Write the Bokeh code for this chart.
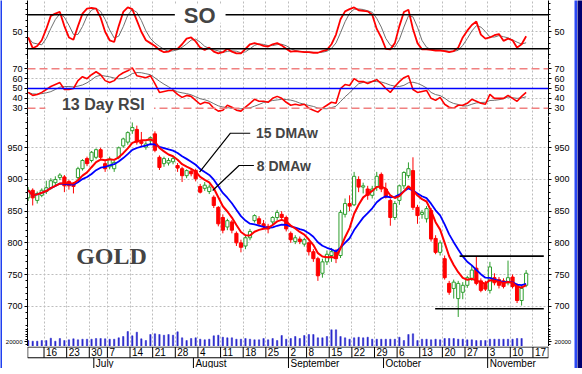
import numpy as np
import pandas as pd
from bokeh.plotting import figure
from bokeh.layouts import column, row
from bokeh.models import Range1d, LinearAxis, FixedTicker, Span, Label, BoxAnnotation, ColumnDataSource
from bokeh.embed import file_html
from bokeh.resources import INLINE
from bokeh.core.properties import value

# ---------------- data ----------------
START, END = "2008-06-10", "2008-11-17"
HOLIDAYS = ["2008-07-04", "2008-09-01"]
MONTH_NAMES = {7: "July", 8: "August", 9: "September", 10: "October", 11: "November"}

opens = [871, 883, 867, 875, 881, 887, 895, 903, 904, 897, 893, 903, 917, 933, 930, 935, 947, 925, 920, 917,
         935, 953, 959, 977, 979, 960, 951, 961, 972, 935, 925, 926, 928, 922, 917, 906, 913, 914, 889, 886,
         881, 872, 856, 840, 825, 833, 815, 800, 795, 808, 835, 838, 830, 826, 833, 840, 845, 840, 815, 802,
         806, 798, 800, 786, 775, 752, 770, 780, 786, 780, 845, 862, 860, 900, 888, 885, 875, 888, 908, 885,
         867, 840, 867, 890, 906, 914, 856, 845, 838, 851, 807, 785, 775, 736, 728, 712, 722, 733, 744, 760,
         740, 736, 725, 745, 742, 740, 737, 746, 733, 709, 733]
highs = [888, 886, 881, 886, 898, 902, 905, 910, 907, 899, 896, 920, 932, 936, 945, 949, 950, 929, 936, 930,
         952, 966, 976, 990, 985, 975, 960, 968, 976, 938, 936, 934, 936, 926, 920, 916, 918, 917, 893, 896,
         892, 875, 858, 845, 838, 836, 818, 805, 812, 822, 845, 842, 836, 830, 842, 852, 850, 843, 818, 812,
         810, 808, 802, 790, 778, 775, 788, 792, 790, 852, 870, 875, 912, 905, 895, 890, 890, 912, 911, 895,
         870, 866, 892, 913, 927, 935, 860, 852, 858, 855, 812, 804, 780, 740, 742, 740, 738, 748, 765, 778,
         744, 740, 770, 752, 746, 744, 772, 750, 736, 732, 757]
lows = [866, 859, 862, 872, 877, 884, 890, 899, 880, 884, 878, 900, 914, 921, 927, 932, 932, 912, 916, 912,
        932, 950, 955, 972, 955, 952, 947, 956, 943, 915, 920, 922, 924, 912, 896, 902, 905, 897, 878, 882,
        877, 855, 826, 815, 820, 815, 795, 785, 790, 804, 832, 826, 822, 815, 828, 836, 835, 818, 800, 798,
        798, 794, 780, 770, 740, 745, 765, 770, 768, 776, 840, 850, 858, 880, 878, 868, 870, 882, 880, 870,
        827, 836, 860, 885, 902, 852, 830, 838, 832, 802, 782, 780, 742, 718, 712, 683, 711, 729, 740, 733,
        722, 724, 720, 733, 728, 728, 733, 728, 705, 701, 730]
closes = [883, 871, 878, 883, 887, 898, 900, 907, 890, 890, 889, 917, 930, 925, 943, 947, 935, 917, 932, 927,
          950, 964, 974, 982, 959, 957, 956, 966, 946, 919, 933, 930, 933, 918, 906, 914, 909, 901, 880, 891,
          888, 859, 830, 820, 835, 820, 800, 793, 808, 818, 843, 830, 826, 822, 840, 848, 840, 822, 805, 808,
          802, 805, 786, 775, 748, 770, 782, 786, 775, 848, 862, 858, 905, 888, 890, 875, 885, 905, 885, 872,
          840, 862, 890, 911, 917, 856, 843, 848, 854, 806, 785, 800, 745, 722, 738, 736, 733, 745, 757, 736,
          725, 727, 762, 737, 733, 731, 745, 731, 709, 728, 752]
volume = [120, 106, 106, 120, 120, 166, 106, 160, 120, 134, 154, 134, 146, 146, 146, 160, 160, 154, 146, 146,
          174, 200, 300, 214, 286, 154, 120, 240, 254, 240, 226, 240, 226, 294, 174, 120, 160, 174, 146, 134,
          146, 214, 226, 186, 174, 174, 146, 146, 160, 146, 134, 134, 160, 134, 160, 120, 220, 146, 160, 200,
          160, 220, 240, 240, 174, 174, 200, 334, 334, 200, 174, 146, 174, 186, 174, 186, 146, 146, 146, 146,
          146, 146, 186, 120, 240, 254, 120, 146, 146, 134, 146, 134, 160, 160, 160, 146, 146, 134, 134, 120,
          120, 120, 146, 146, 146, 146, 146, 146, 160, 160]
so_k = [40, 21, 25, 35, 55, 78, 82, 85, 60, 40, 36, 60, 82, 91, 92, 91, 75, 50, 35, 32,
        60, 85, 93, 90, 70, 50, 35, 30, 25, 18, 14, 15, 20, 20, 28, 38, 40, 33, 22, 18,
        22, 15, 12, 14, 20, 15, 12, 12, 20, 28, 30, 28, 25, 24, 28, 30, 26, 20, 15, 16,
        15, 14, 14, 13, 13, 16, 18, 28, 45, 72, 86, 90, 93, 88, 87, 86, 80, 55, 40, 20,
        19, 30, 60, 85, 89, 55, 30, 19, 19, 18, 17, 17, 16, 14, 16, 22, 40, 52, 62, 68,
        45, 38, 40, 44, 46, 34, 38, 35, 22, 28, 42]
rsi = [46, 43, 44, 46, 49, 52, 54, 56, 49, 49, 50, 58, 62, 60, 64, 67, 64, 58, 56, 58,
       63, 66, 68, 71, 63, 62, 61, 63, 55, 46, 47, 48, 48, 44, 41, 43, 42, 38, 34, 36,
       35, 30, 27, 28, 33, 31, 28, 27, 31, 35, 39, 37, 37, 36, 40, 42, 40, 36, 33, 34,
       33, 34, 30, 28, 26, 30, 33, 36, 35, 50, 54, 53, 60, 57, 57, 55, 57, 59, 55, 50,
       46, 52, 57, 61, 63, 49, 46, 47, 48, 40, 38, 41, 34, 31, 30, 33, 33, 35, 39, 37,
       35, 34, 44, 40, 40, 40, 43, 40, 37, 42, 46]
support_levels = [779, 696]

# ---------------- derived ----------------
days = [d for d in pd.bdate_range(START, END) if d.strftime("%Y-%m-%d") not in HOLIDAYS]
n = len(closes)
xs = list(range(n))


def wma(vals, period):
    out = []
    for i in range(len(vals)):
        w = np.array(vals[max(0, i - period + 1): i + 1], dtype=float)
        k = np.arange(1, len(w) + 1)
        out.append(float(np.dot(w, k) / k.sum()))
    return out


ma8 = wma(closes, 8)
ma15 = wma(closes, 15)
so_d = pd.Series(so_k, dtype=float).rolling(3, min_periods=1).mean().tolist()
rsi_sig = pd.Series(rsi, dtype=float).rolling(5, min_periods=1).mean().tolist()

week_idx = [i for i in range(1, len(days)) if days[i].isocalendar()[1] != days[i - 1].isocalendar()[1]]
week_ticks = [i - 0.5 for i in week_idx]
week_labels = [str(days[i].day) for i in week_idx]
month_idx = [i for i in range(1, len(days)) if days[i].month != days[i - 1].month]
month_ticks = [i - 0.5 for i in month_idx]
month_labels = [MONTH_NAMES[days[i].month] for i in month_idx]

# ---------------- layout ----------------
FONT = "Liberation Sans"
LSTRIP, RSTRIP_A, RSTRIP_B = 2, 3, 5
W = 582 - LSTRIP - RSTRIP_A - RSTRIP_B      # 572
BL, BR = 24, 21
PXD = 4.579
x0 = -0.15
xr = Range1d(x0, x0 + (W - BL - BR) / PXD)
GRID = "#BDBDBD"


def style_axis(ax, ticks, minor, size, standoff, overrides=None):
    ax.ticker = FixedTicker(ticks=ticks, minor_ticks=minor)
    ax.major_label_text_font = FONT
    ax.major_label_text_font_size = size
    ax.major_label_text_color = "black"
    ax.major_label_standoff = standoff
    ax.major_tick_out = 3
    ax.major_tick_in = 0
    ax.minor_tick_out = 2
    ax.minor_tick_in = 0
    ax.axis_line_color = "black"
    ax.major_tick_line_color = "black"
    ax.minor_tick_line_color = "black"
    if overrides:
        ax.major_label_overrides = overrides


def panel(h, yr, ticks, minor, grid_ticks, size="9px", overrides=None, axes=True):
    p = figure(width=W, height=h, x_range=xr, y_range=yr, output_backend="svg",
               toolbar_location=None, title=None, x_axis_location=None,
               y_axis_location="left" if axes else None,
               min_border_left=BL, min_border_right=BR, min_border_top=0, min_border_bottom=0,
               outline_line_color=None, background_fill_color="white", border_fill_color="white")
    if axes:
        p.add_layout(LinearAxis(), "right")
        style_axis(p.left[0], ticks, minor, size, 2, overrides)
        style_axis(p.right[0], ticks, minor, size, 3, overrides)
        p.xgrid.ticker = FixedTicker(ticks=week_ticks)
        p.ygrid.ticker = FixedTicker(ticks=grid_ticks)
        for g in (p.xgrid, p.ygrid):
            g.grid_line_color = GRID
            g.grid_line_dash = "2 2"
            g.grid_line_width = 1
    else:
        p.grid.visible = False
    return p


def strip(w, h, color):
    s = figure(width=w, height=h, output_backend="svg", toolbar_location=None, title=None,
               x_axis_location=None, y_axis_location=None, min_border=0,
               outline_line_color=None, background_fill_color=color, border_fill_color=color)
    s.grid.visible = False
    return s


# --- Stochastic oscillator ---
p_so = panel(59, Range1d(1.1, 105.2), [50], [10, 20, 30, 40, 60, 70, 80, 90, 100], [50])
for lv in (80, 20):
    p_so.add_layout(Span(location=lv, dimension="width", line_color="black", line_width=1.6))
p_so.line(xs, so_d, line_color="#707070", line_width=1)
p_so.line(xs, so_k, line_color="#FF0000", line_width=1.8)
p_so.add_layout(BoxAnnotation(left=32.4, right=43.6, bottom=66, top=98, fill_color="white",
                              fill_alpha=1, line_color=None))
p_so.add_layout(Label(x=37.9, y=78, text="SO", text_font=FONT, text_font_style="bold",
                      text_font_size="22px", text_align="center", text_baseline="middle"))

# --- RSI ---
p_rsi = panel(57, Range1d(21.57, 79.44), [30, 40, 50, 60, 70], [25, 35, 45, 55, 65, 75], [40, 60])
for lv in (70, 30):
    p_rsi.add_layout(Span(location=lv, dimension="width", line_color="#F08080", line_width=1.6,
                          line_dash="8 4"))
p_rsi.add_layout(Span(location=50, dimension="width", line_color="#0000FF", line_width=1.5))
p_rsi.line(xs, rsi_sig, line_color="#707070", line_width=1)
p_rsi.line(xs, rsi, line_color="#FF0000", line_width=1.6)
p_rsi.add_layout(BoxAnnotation(left=3.8, right=27.8, bottom=21.57, top=42, fill_color="white",
                               fill_alpha=1, line_color=None))
p_rsi.add_layout(Label(x=16.6, y=33.5, text="13 Day RSI", text_font=FONT, text_font_style="bold",
                       text_font_size="16px", text_align="center", text_baseline="middle"))

# --- Price ---
price_major = [700, 750, 800, 850, 900, 950]
price_minor = [v for v in range(670, 1000, 10) if v not in price_major]
p_pr = panel(211, Range1d(666.4, 999.4), price_major, price_minor, price_major)
up = [c >= o for o, c in zip(opens, closes)]
src = ColumnDataSource(dict(
    x=xs, high=highs, low=lows,
    top=[max(o, c) for o, c in zip(opens, closes)],
    bot=[min(o, c) for o, c in zip(opens, closes)],
    line=["#2E9E2E" if u else "#FF0000" for u in up],
    fill=["white" if u else "#FF0000" for u in up],
))
p_pr.segment(x0="x", y0="low", x1="x", y1="high", line_color="line", line_width=1, source=src)
p_pr.vbar(x="x", width=0.7, top="top", bottom="bot", fill_color="fill", line_color="line",
          line_width=1, source=src)
p_pr.line(xs, ma15, line_color="#0000FF", line_width=1.8)
p_pr.line(xs, ma8, line_color="#FF0000", line_width=2)
p_pr.line([95.3, 113.9], [support_levels[0]] * 2, line_color="black", line_width=1.6)
p_pr.line([89.9, 113.9], [support_levels[1]] * 2, line_color="black", line_width=1.6)
# callouts
p_pr.line([37.85, 44.68, 49.05], [911.5, 973.0, 973.0], line_color="black", line_width=1.2)
p_pr.line([40.75, 46.58, 49.86], [882.6, 922.1, 922.1], line_color="black", line_width=1.2)
p_pr.add_layout(Label(x=50.3, y=973, text="15 DMAw", text_font=FONT, text_font_style="bold",
                      text_font_size="14px", text_align="left", text_baseline="middle"))
p_pr.add_layout(Label(x=50.5, y=922, text="8 DMAw", text_font=FONT, text_font_style="bold",
                      text_font_size="14px", text_align="left", text_baseline="middle"))
p_pr.add_layout(Label(x=18.4, y=779, text="GOLD", text_font="Liberation Serif", text_font_style="bold",
                      text_font_size="24px", text_align="center", text_baseline="middle"))

# --- Volume ---
p_vol = panel(19, Range1d(0, 380), [100], [50, 150, 200, 250, 300, 350], [], size="6px",
              overrides={100: "20000"})
p_vol.vbar(x=xs[:len(volume)], width=0.3, top=volume, bottom=0, fill_color="#2828CC",
           line_color="#2828CC", line_width=0.5)

# --- Date axis ---
p_dt = panel(22, Range1d(0, 2.05), [], [], [], axes=False)
xa, xb = xr.start, xr.end
p_dt.segment(x0=[xa], y0=[2], x1=[xb], y1=[2], line_color="black", line_width=1)
p_dt.segment(x0=[xa], y0=[1], x1=[xb], y1=[1], line_color="black", line_width=1)
p_dt.segment(x0=[xa + 0.05, xb - 0.05], y0=[1, 1], x1=[xa + 0.05, xb - 0.05], y1=[2, 2],
             line_color="black", line_width=1)
p_dt.segment(x0=week_ticks, y0=[1] * len(week_ticks), x1=week_ticks, y1=[2] * len(week_ticks),
             line_color="black", line_width=1)
p_dt.text(x=week_ticks, y=[1.5] * len(week_ticks), text=week_labels, text_font=value(FONT),
          text_font_size="10px", text_align="left", text_baseline="middle", x_offset=2, text_color="black")
p_dt.segment(x0=month_ticks, y0=[0] * len(month_ticks), x1=month_ticks, y1=[1] * len(month_ticks),
             line_color="black", line_width=1)
p_dt.text(x=month_ticks, y=[0.5] * len(month_ticks), text=month_labels, text_font=value(FONT),
          text_font_size="10px", text_align="left", text_baseline="middle", x_offset=2, text_color="black")

panels = column(p_so, p_rsi, p_pr, p_vol, p_dt, spacing=0)
H = 59 + 57 + 211 + 19 + 22
body = row(strip(LSTRIP, H, "#2040F0"), panels, strip(RSTRIP_A, H, "#2A48F5"),
           strip(RSTRIP_B, H, "#000070"), spacing=0)
layout = column(body, strip(582, 374 - H, "#000048"), spacing=0)
open("out.html", "w").write(file_html(layout, INLINE, "GOLD"))
